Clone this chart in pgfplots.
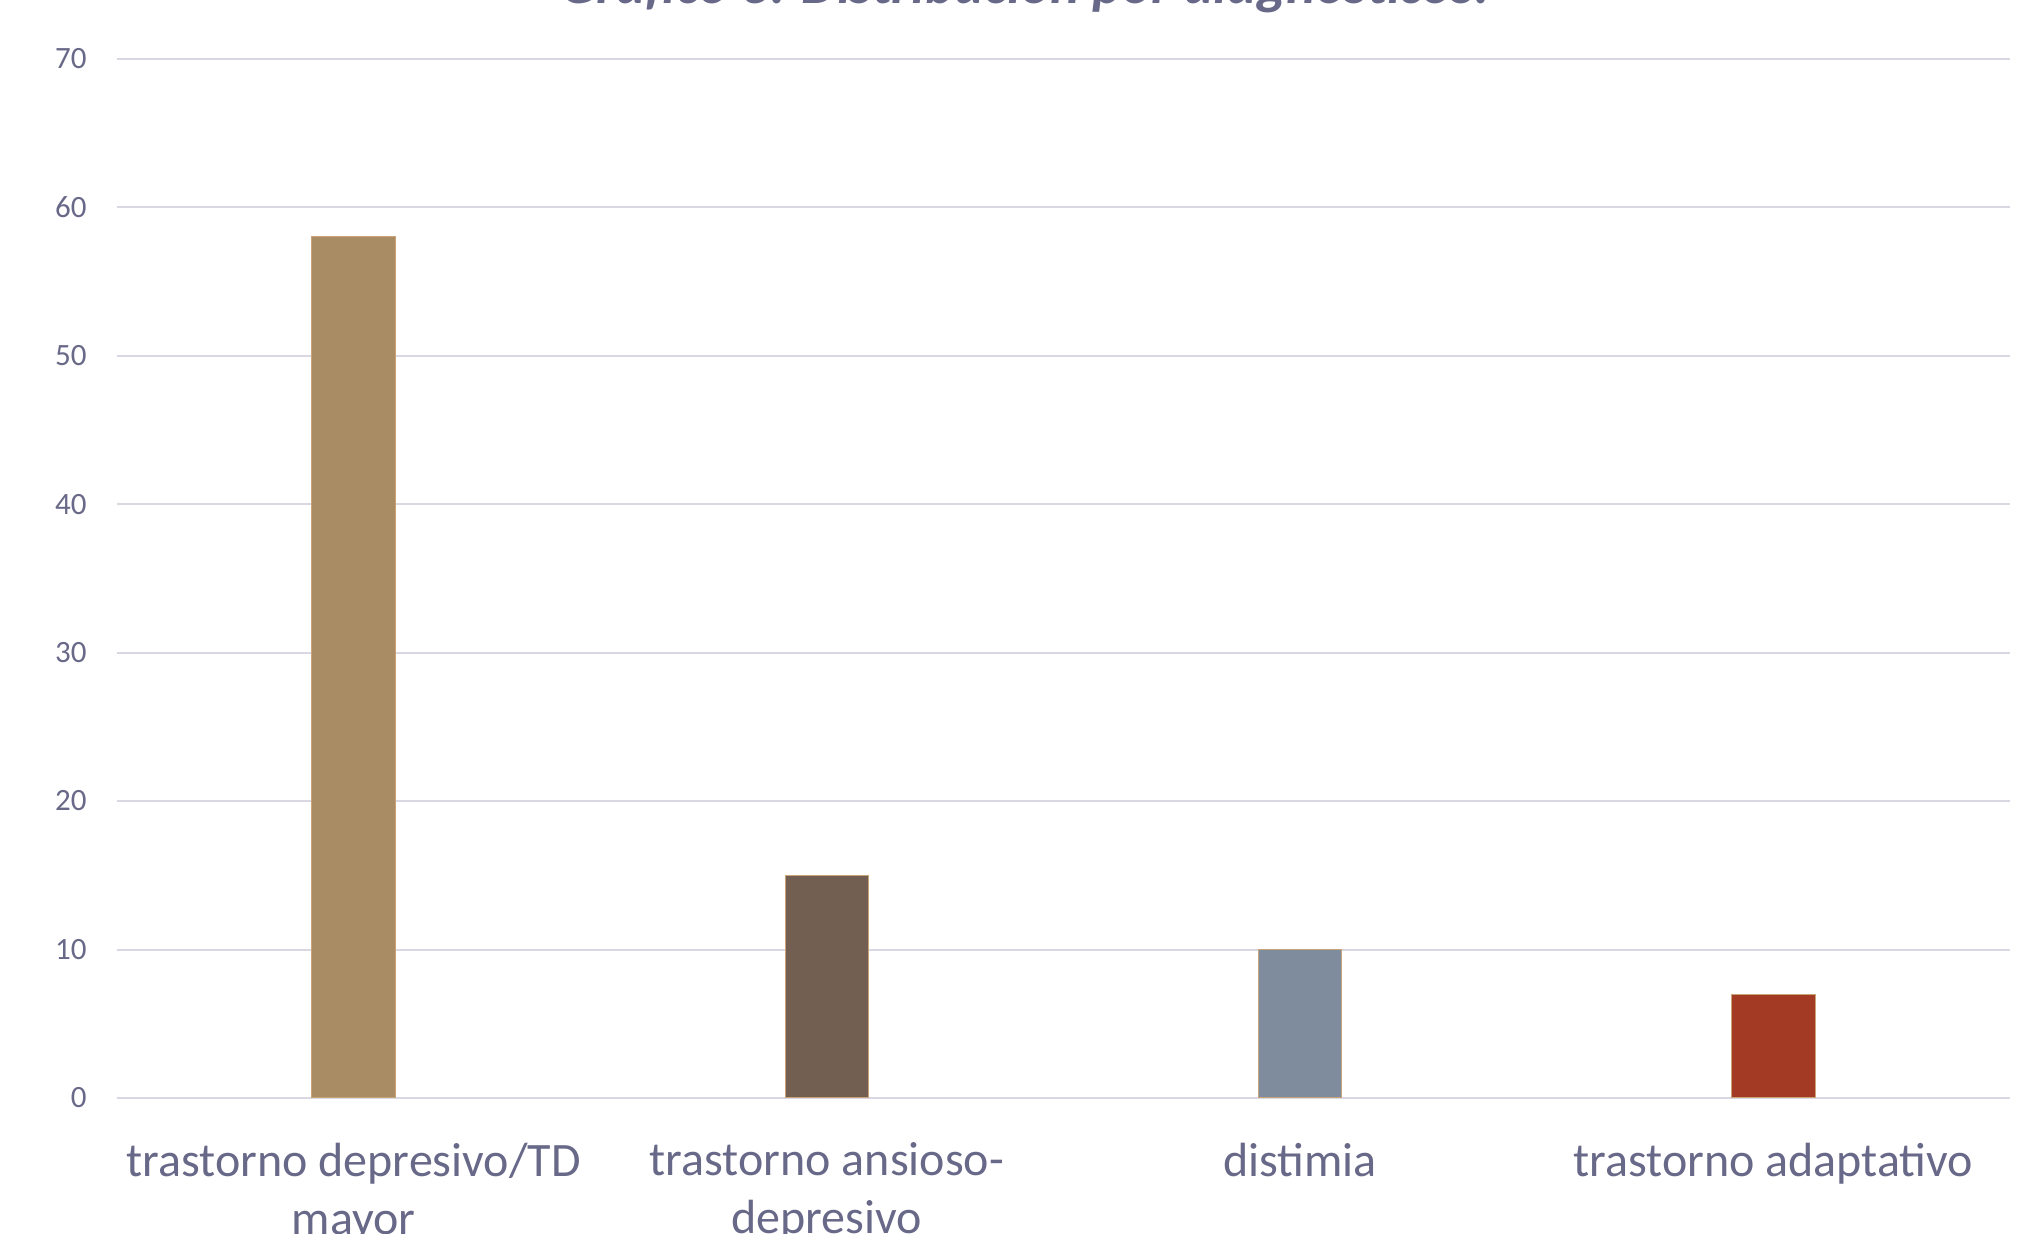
\documentclass[border=0pt]{standalone}
\usepackage{pgfplots}
\pgfplotsset{compat=1.18}
\usepackage{fontspec}
\setmainfont{Carlito}

\definecolor{txt}{RGB}{104,104,136}
\definecolor{grid}{RGB}{217,216,226}
\definecolor{edge}{RGB}{200,164,120}
\definecolor{barA}{RGB}{170,140,100}
\definecolor{barB}{RGB}{114,95,82}
\definecolor{barC}{RGB}{127,140,158}
\definecolor{barD}{RGB}{163,58,36}

\begin{document}
\begin{tikzpicture}
\begin{axis}[
  scale only axis,
  width=946.5pt, height=519.7pt,
  xmin=-0.5, xmax=3.5,
  ymin=0, ymax=70,
  ytick={0,10,...,70},
  xtick={0,1,2,3},
  xticklabels={{trastorno depresivo/TD\\mayor},{trastorno ansioso-\\depresivo},{distimia},{trastorno adaptativo}},
  axis line style={draw=none},
  tick style={draw=none},
  ymajorgrids,
  grid style={color=grid, line width=1pt},
  /pgf/number format/assume math mode=true,
  yticklabel style={font=\fontsize{15.5}{18}\selectfont, text=txt, anchor=east, inner sep=0pt, xshift=-15pt},
  xticklabel style={font=\fontsize{24}{29}\selectfont, text=txt, anchor=north, inner sep=0pt, yshift=-18pt, align=center},
  ybar, bar width=41.75pt, bar shift=0pt,
  clip=false,
]
\addplot[fill=barA, draw=edge, line width=0.5pt] coordinates {(0,58)};
\addplot[fill=barB, draw=edge, line width=0.5pt] coordinates {(1,15)};
\addplot[fill=barC, draw=edge, line width=0.5pt] coordinates {(2,10)};
\addplot[fill=barD, draw=edge, line width=0.5pt] coordinates {(3,7)};
\end{axis}
\node[anchor=base, text=txt, font=\fontsize{28}{34}\selectfont\bfseries\itshape, inner sep=0pt]
  at (454pt,547pt) {Gráfico 3. Distribución por diagnósticos.};
\pgfresetboundingbox
\path[use as bounding box] (-58.5pt,-68pt) rectangle (963pt,549pt);
\end{tikzpicture}
\end{document}
